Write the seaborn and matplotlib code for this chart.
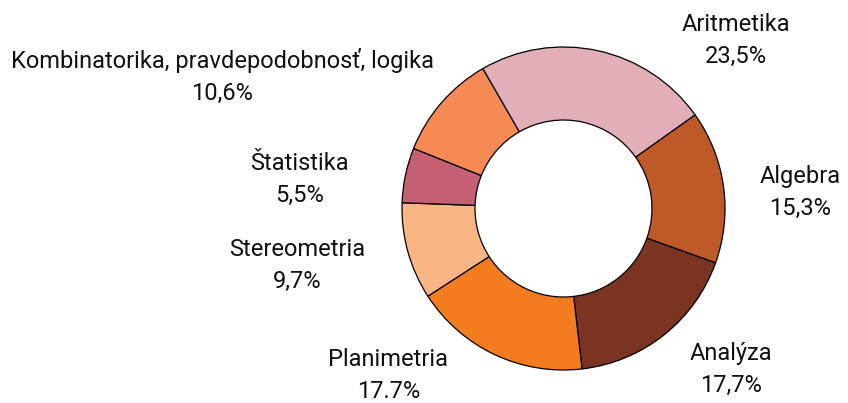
import matplotlib
matplotlib.use("Agg")
import matplotlib.pyplot as plt
import seaborn as sns
import numpy as np

sns.set_theme(style="white")
plt.rcParams['font.family'] = ['Roboto', 'DejaVu Sans']

categories = ["Aritmetika", "Algebra", "Analýza", "Planimetria",
              "Stereometria", "Štatistika", "Kombinatorika, pravdepodobnosť, logika"]
values = [23.5, 15.3, 17.7, 17.7, 9.7, 5.5, 10.6]
value_labels = ["23,5%", "15,3%", "17,7%", "17.7%", "9,7%", "5,5%", "10,6%"]
colors = ["#E2AEB8", "#BE5A28", "#7B3322", "#F47C20", "#F9B584", "#C56074", "#F58A55"]

# label offsets from donut centre (pixels, y up)
label_offsets = [(172, 168), (237, 16), (167, -161), (-175, -167),
                 (-266, -57), (-264, 29), (-341, 132)]

W, H = 848, 403
fig = plt.figure(figsize=(W / 100, H / 100), dpi=100)
ax = fig.add_axes([0, 0, 1, 1])

cx, cy = 563.5, 403 - 208.5
R = 161.5
ax.pie(values, colors=colors, startangle=120, counterclock=False,
       center=(cx, cy), radius=R, frame=True,
       wedgeprops=dict(width=R * 0.452, edgecolor="black", linewidth=0.9))
ax.set_xlim(0, W)
ax.set_ylim(0, H)
ax.set_aspect("equal")
ax.axis("off")

for name, lab, (dx, dy) in zip(categories, value_labels, label_offsets):
    ax.text(cx + dx, cy + dy, f"{name}\n{lab}", ha="center", va="center",
            fontsize=17, color="#111111", linespacing=1.55)

fig.savefig("out.png", dpi=100)
